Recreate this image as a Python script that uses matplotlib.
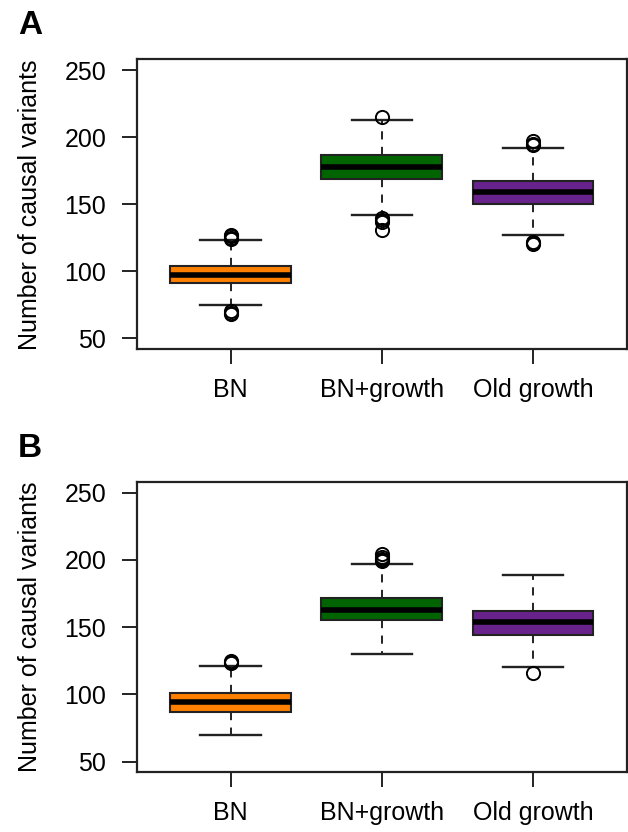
#!/usr/bin/env python3
"""Boxplots of the number of causal variants under three demographic models (panels A and B)."""

import matplotlib
matplotlib.use("Agg")
import matplotlib.pyplot as plt

plt.rcParams['font.family'] = ['Liberation Sans', 'DejaVu Sans']

#--- DATA ------------------------------------------------------------------#

groups = ["BN", "BN+growth", "Old growth"]
box_colors = ["#FF7F00", "#006400", "#68228B"]

# Panel A: five-number summaries and outliers
a_whislo = [75, 142, 127]
a_q1 = [91, 169, 150]
a_med = [97, 178, 159]
a_q3 = [104, 187, 167]
a_whishi = [123, 213, 192]
a_fliers = [[68, 69, 70, 124, 125, 126, 127],
            [131, 137, 138, 140, 215],
            [120, 121, 122, 194, 195, 197]]

# Panel B
b_whislo = [70, 130, 120]
b_q1 = [87, 155, 144]
b_med = [94, 163, 154]
b_q3 = [101, 172, 162]
b_whishi = [121, 197, 189]
b_fliers = [[123, 124, 125],
            [199, 200, 201, 202, 204],
            [116]]

y_ticks = [50, 100, 150, 200, 250]

#--- END DATA ---------------------------------------------------------------#


def make_stats(whislo, q1, med, q3, whishi, fliers):
    stats = []
    for i in range(len(groups)):
        stats.append(dict(label=groups[i], whislo=whislo[i], q1=q1[i],
                          med=med[i], q3=q3[i], whishi=whishi[i],
                          fliers=fliers[i]))
    return stats


def draw_panel(ax, stats):
    bp = ax.bxp(stats, positions=[1, 2, 3], widths=0.8, capwidths=0.4,
                patch_artist=True, showfliers=True,
                boxprops=dict(edgecolor='#222222', linewidth=1.5),
                medianprops=dict(color='black', linewidth=4.0,
                                 solid_capstyle='butt'),
                whiskerprops=dict(color='#222222', linewidth=1.4,
                                  linestyle=(0, (4.2, 3.8))),
                capprops=dict(color='#222222', linewidth=1.7),
                flierprops=dict(marker='o', markersize=9.5,
                                markerfacecolor='none',
                                markeredgecolor='black',
                                markeredgewidth=1.4))
    for patch, c in zip(bp['boxes'], box_colors):
        patch.set_facecolor(c)

    ax.set_xlim(0.38, 3.62)
    ax.set_ylim(42, 258)
    ax.set_yticks(y_ticks)
    ax.set_xticks([1, 2, 3])
    ax.set_xticklabels(groups)
    ax.tick_params(axis='both', labelsize=18, length=11, width=1.4,
                   color='#222222')
    ax.tick_params(axis='y', pad=11)
    ax.tick_params(axis='x', pad=10)
    for s in ax.spines.values():
        s.set_linewidth(1.6)
        s.set_color('#222222')

    ax.text(-0.2184, 0.5, "Number of causal variants", transform=ax.transAxes,
            rotation=90, ha='center', va='center', fontsize=18)
    return bp


fig = plt.figure(figsize=(6.28, 8.32), dpi=100)

# Axes positions in figure fractions
ax_a = fig.add_axes([0.218, 0.5805, 0.780, 0.348])
ax_b = fig.add_axes([0.218, 0.0718, 0.780, 0.349])

draw_panel(ax_a, make_stats(a_whislo, a_q1, a_med, a_q3, a_whishi, a_fliers))
draw_panel(ax_b, make_stats(b_whislo, b_q1, b_med, b_q3, b_whishi, b_fliers))

# Panel letters
fig.text(18 / 628, 1 - 34 / 832, "A", fontsize=24, fontweight='bold',
         va='baseline', ha='left')
fig.text(18 / 628, 1 - 457 / 832, "B", fontsize=24, fontweight='bold',
         va='baseline', ha='left')

fig.savefig("out.png", dpi=100)
